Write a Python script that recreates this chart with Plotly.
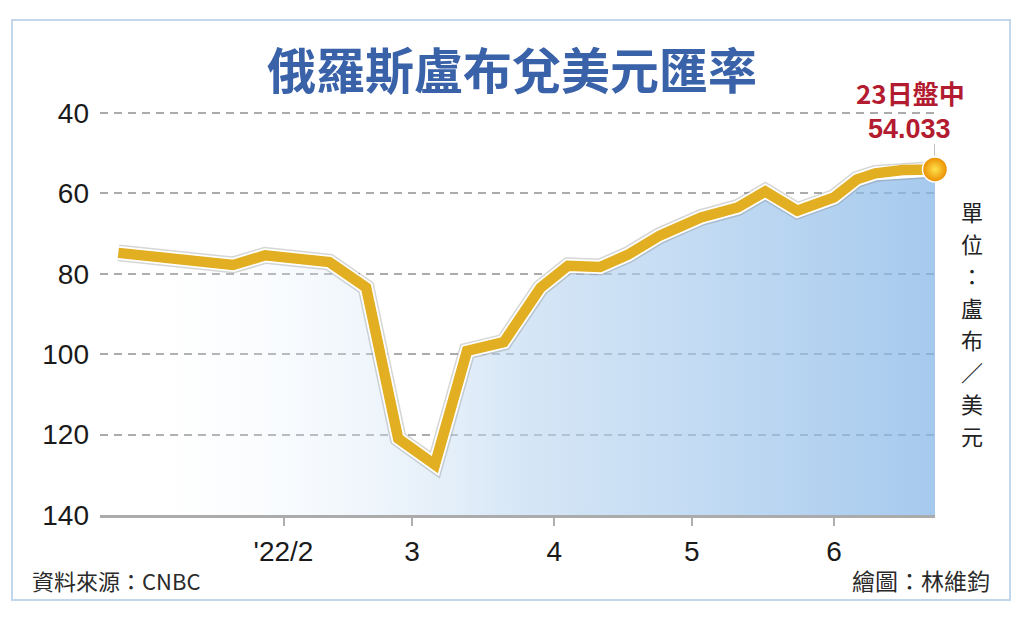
import plotly.graph_objects as go

# ---- data ----
dates = ['2021-12-27', '2022-01-21', '2022-01-28', '2022-02-05', '2022-02-11',
         '2022-02-19', '2022-02-26', '2022-03-06', '2022-03-13', '2022-03-21',
         '2022-03-29', '2022-04-04', '2022-04-11', '2022-04-17', '2022-04-24',
         '2022-05-03', '2022-05-11', '2022-05-17', '2022-05-24', '2022-06-01',
         '2022-06-06', '2022-06-10', '2022-06-16', '2022-06-23']
rates = [74.8, 77.8, 75.4, 76.6, 77.1,
         83.4, 121.0, 127.5, 99.2, 97.0,
         83.5, 78.0, 78.3, 75.3, 70.5,
         66.0, 63.5, 59.5, 64.3, 61.0,
         56.5, 55.0, 54.2, 54.033]

y_ticks = [40, 60, 80, 100, 120, 140]
x_tick_dates = ['2022-02-01', '2022-03-01', '2022-04-01', '2022-05-01', '2022-06-01']
x_tick_text = ["'22/2", '3', '4', '5', '6']

title_text = '俄羅斯盧布兌美元匯率'
last_label_1 = '23日盤中'
last_label_2 = '54.033'
unit_chars = ['單', '位', '：', '盧', '布', '／', '美', '元']
source_text = '資料來源：CNBC'
credit_text = '繪圖：林維鈞'

# ---- layout geometry (window pixels; page body has an 8px margin) ----
OFF = 8
W, H = 1024 - OFF, 622 - OFF
PLOT_L, PLOT_R, PLOT_T, PLOT_B = 100, 935, 111, 515   # in window pixels
L = PLOT_L - OFF
T = PLOT_T - OFF
R = W - (PLOT_R - OFF)
B = H - (PLOT_B - OFF)
PW = PLOT_R - PLOT_L
PH = PLOT_B - PLOT_T


def px(x):
    return (x - PLOT_L) / PW


def py(y):
    return (PLOT_B - y) / PH


CJK = 'Noto Sans CJK TC'
NUM = 'Liberation Sans'
RED = '#B31B30'

fig = go.Figure()

y_bottom = max(y_ticks)
y_top = min(y_ticks)

# baseline for the area fill
fig.add_trace(go.Scatter(
    x=dates, y=[y_bottom] * len(dates), mode='lines',
    line=dict(width=0), hoverinfo='skip', showlegend=False))

# gradient area from the line down to the bottom
fig.add_trace(go.Scatter(
    x=dates, y=rates, mode='lines', fill='tonexty',
    line=dict(width=0),
    fillgradient=dict(
        type='horizontal',
        colorscale=[[0.0, 'rgba(255,255,255,0.0)'],
                    [0.5, 'rgba(185,213,240,0.6)'],
                    [1.0, 'rgba(131,181,231,0.72)']]),
    hoverinfo='skip', showlegend=False))

# soft shadow + white halo + gold line
fig.add_trace(go.Scatter(
    x=dates, y=rates, mode='lines',
    line=dict(color='rgba(120,120,120,0.30)', width=17),
    hoverinfo='skip', showlegend=False))
fig.add_trace(go.Scatter(
    x=dates, y=rates, mode='lines',
    line=dict(color='white', width=14),
    hoverinfo='skip', showlegend=False))
fig.add_trace(go.Scatter(
    x=dates, y=rates, mode='lines',
    line=dict(color='#E2AE22', width=10.5),
    showlegend=False))

# end-point marker
fig.add_trace(go.Scatter(
    x=[dates[-1]], y=[rates[-1]], mode='markers',
    marker=dict(size=25, color='#E98C00',
                gradient=dict(type='radial', color='#FFE24A'),
                line=dict(color='white', width=1.5)),
    cliponaxis=False, showlegend=False))

fig.update_layout(
    width=W, height=H,
    margin=dict(l=L, r=R, t=T, b=B),
    paper_bgcolor='white', plot_bgcolor='white',
    showlegend=False,
    xaxis=dict(
        type='date',
        range=['2021-12-23', '2022-06-23'],
        tickvals=x_tick_dates, ticktext=x_tick_text,
        ticks='outside', ticklen=8, tickwidth=2, tickcolor='#B0B0B0',
        showgrid=False, zeroline=False,
        showline=True, linecolor='#ABABAB', linewidth=3,
        tickfont=dict(family=NUM, size=28, color='#1a1a1a'),
        ticklabelstandoff=1,
        fixedrange=True,
    ),
    yaxis=dict(
        range=[y_bottom, y_top - 0.5],
        tickvals=y_ticks, ticktext=[str(v) for v in y_ticks],
        showgrid=True, gridcolor='#ABABAB', gridwidth=2, griddash='8px,6px',
        zeroline=False, showline=False, ticks='',
        tickfont=dict(family=NUM, size=28, color='#1a1a1a'),
        ticklabelstandoff=10,
        fixedrange=True,
    ),
)

annotations = [
    dict(text=title_text, xref='paper', yref='paper', x=px(512), y=py(68),
         xanchor='center', yanchor='middle', showarrow=False,
         font=dict(family=CJK, size=49, color='#3A62A9', weight='bold')),
    dict(text=last_label_1, xref='paper', yref='paper', x=px(910), y=py(93),
         xanchor='center', yanchor='middle', showarrow=False,
         font=dict(family=CJK, size=26, color=RED, weight='bold')),
    dict(text=last_label_2, xref='paper', yref='paper', x=px(909), y=py(128.5),
         xanchor='center', yanchor='middle', showarrow=False,
         font=dict(family=NUM, size=27, color=RED, weight='bold')),
    dict(text=source_text, xref='paper', yref='paper', x=px(30), y=py(580),
         xanchor='left', yanchor='middle', showarrow=False,
         font=dict(family=CJK, size=22, color='#2a2a2a')),
    dict(text=credit_text, xref='paper', yref='paper', x=px(992), y=py(580),
         xanchor='right', yanchor='middle', showarrow=False,
         font=dict(family=CJK, size=23, color='#2a2a2a')),
]
for i, ch in enumerate(unit_chars):
    annotations.append(dict(
        text=ch, xref='paper', yref='paper', x=px(972), y=py(211 + 32 * i),
        xanchor='center', yanchor='middle', showarrow=False,
        font=dict(family=CJK, size=22, color='#222222')))
fig.update_layout(annotations=annotations)

# thin leader from the label to the end marker, and the outer frame
fig.add_shape(type='line', xref='x', yref='y',
              x0=dates[-1], x1=dates[-1], y0=rates[-1] - 3.4, y1=rates[-1] - 6.4,
              line=dict(color='#9A9A9A', width=1.2))
fig.add_shape(type='rect', xref='paper', yref='paper',
              x0=px(12), x1=px(1010), y0=py(600), y1=py(20),
              line=dict(color='#C3D7EC', width=2), layer='below')

fig.write_html('out.html')
